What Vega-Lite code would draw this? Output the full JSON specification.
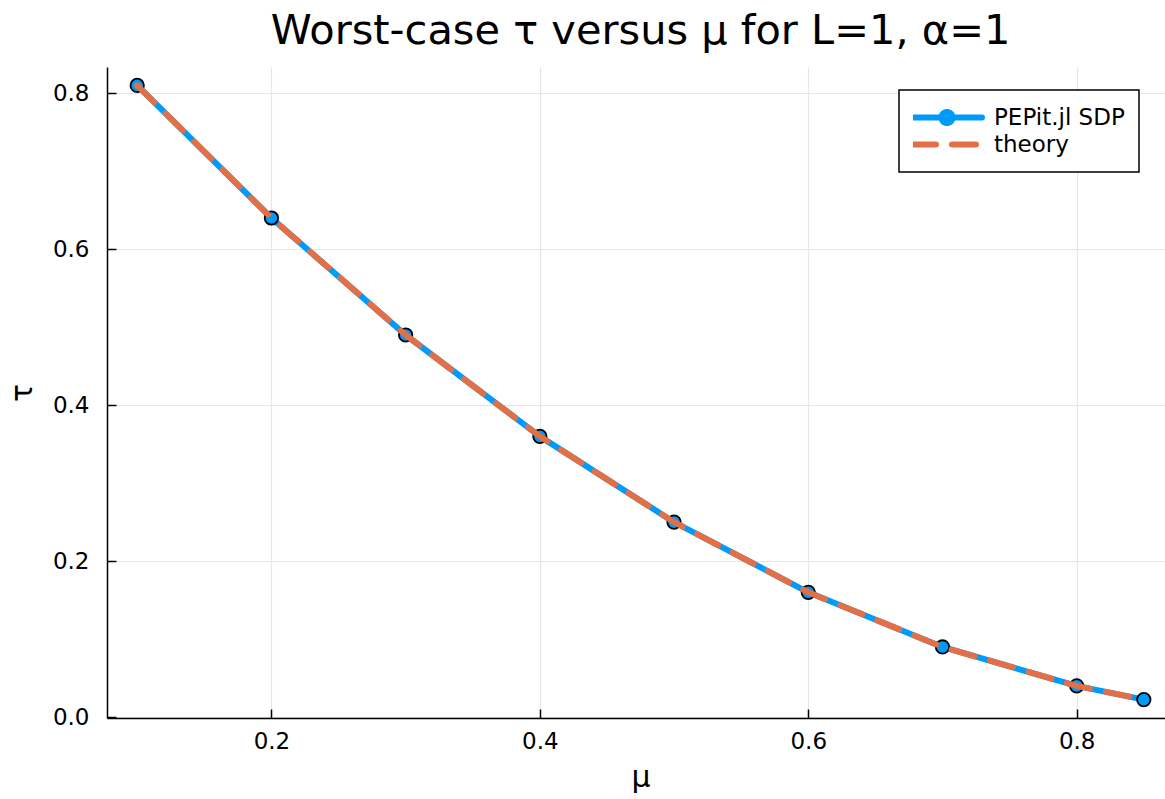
{
  "$schema": "https://vega.github.io/schema/vega-lite/v6.json",
  "width": 1067,
  "height": 651,
  "autosize": {"type": "none"},
  "padding": {"left": 107, "top": 67, "right": 0, "bottom": 81},
  "background": "white",
  "config": {"view": {"stroke": null}, "font": "DejaVu Sans"},
  "title": {"text": "Worst-case τ versus μ for L=1, α=1", "font": "DejaVu Sans", "fontSize": 41.5, "fontWeight": "normal", "color": "black", "anchor": "middle", "frame": "group", "offset": 15},
  "data": {"values": [
    {"mu": 0.1, "tau": 0.81, "series": "PEPit.jl SDP"},
    {"mu": 0.2, "tau": 0.64, "series": "PEPit.jl SDP"},
    {"mu": 0.3, "tau": 0.49, "series": "PEPit.jl SDP"},
    {"mu": 0.4, "tau": 0.36, "series": "PEPit.jl SDP"},
    {"mu": 0.5, "tau": 0.25, "series": "PEPit.jl SDP"},
    {"mu": 0.6, "tau": 0.16, "series": "PEPit.jl SDP"},
    {"mu": 0.7, "tau": 0.09, "series": "PEPit.jl SDP"},
    {"mu": 0.8, "tau": 0.04, "series": "PEPit.jl SDP"},
    {"mu": 0.85, "tau": 0.0225, "series": "PEPit.jl SDP"},
    {"mu": 0.1, "tau": 0.81, "series": "theory"},
    {"mu": 0.2, "tau": 0.64, "series": "theory"},
    {"mu": 0.3, "tau": 0.49, "series": "theory"},
    {"mu": 0.4, "tau": 0.36, "series": "theory"},
    {"mu": 0.5, "tau": 0.25, "series": "theory"},
    {"mu": 0.6, "tau": 0.16, "series": "theory"},
    {"mu": 0.7, "tau": 0.09, "series": "theory"},
    {"mu": 0.8, "tau": 0.04, "series": "theory"},
    {"mu": 0.85, "tau": 0.0225, "series": "theory"}
  ]},
  "encoding": {
    "x": {"field": "mu", "type": "quantitative",
      "scale": {"domain": [0.0775, 0.8725], "nice": false, "zero": false},
      "axis": {"title": "μ", "values": [0.2, 0.4, 0.6, 0.8], "format": ".1f",
        "labelFont": "DejaVu Sans", "labelFontSize": 23, "labelColor": "black",
        "titleFont": "DejaVu Sans", "titleFontSize": 30, "titleFontWeight": "normal", "titleColor": "black", "titlePadding": 9,
        "domainColor": "black", "domainWidth": 1.5, "tickColor": "black", "tickWidth": 1.5, "tickSize": -9, "labelPadding": 21,
        "grid": true, "gridColor": "#e6e6e6", "gridWidth": 1.2}},
    "y": {"field": "tau", "type": "quantitative",
      "scale": {"domain": [-0.001125, 0.833625], "nice": false, "zero": false},
      "axis": {"title": "τ", "values": [0, 0.2, 0.4, 0.6, 0.8], "format": ".1f",
        "labelFont": "DejaVu Sans", "labelFontSize": 23, "labelColor": "black",
        "titleFont": "DejaVu Sans", "titleFontSize": 30, "titleFontWeight": "normal", "titleColor": "black", "titlePadding": 15,
        "domainColor": "black", "domainWidth": 1.5, "tickColor": "black", "tickWidth": 1.5, "tickSize": -9, "labelPadding": 27,
        "grid": true, "gridColor": "#e6e6e6", "gridWidth": 1.2}}
  },
  "layer": [
    {
      "transform": [{"filter": "datum.series === 'PEPit.jl SDP'"}],
      "mark": {"type": "line", "strokeWidth": 6, "strokeCap": "round", "strokeJoin": "round"},
      "encoding": {
        "color": {"field": "series", "type": "nominal",
          "scale": {"domain": ["PEPit.jl SDP", "theory"], "range": ["#009AFA", "#E36F47"]},
          "legend": {"title": null, "orient": "none", "legendX": 792, "legendY": 23,
            "fillColor": "white", "strokeColor": "black", "cornerRadius": 0, "padding": 14,
            "labelFont": "DejaVu Sans", "labelFontSize": 23, "labelColor": "black", "labelOffset": 34,
            "symbolSize": 400, "symbolStrokeWidth": 6, "symbolOffset": 21, "rowPadding": 0, "clipHeight": 27,
            "encode": {
              "legend": {"update": {"strokeWidth": {"value": 1.5}}},
              "symbols": {"update": {
              "shape": {"signal": "datum.label === 'theory' ? 'M-3.5,0H3.5' : 'M-3.5,0H-0.6M0.6,0H3.5M0.55,0A0.55,0.55 0 1 1 -0.55,0A0.55,0.55 0 1 1 0.55,0Z'"},
              "strokeDash": {"signal": "datum.label === 'theory' ? [24,16] : [1,0]"},
              "strokeCap": {"value": "round"},
              "strokeWidth": {"value": 6},
              "fill": {"signal": "datum.label === 'theory' ? 'transparent' : '#009AFA'"},
              "fillOpacity": {"value": 1},
              "stroke": {"signal": "datum.label === 'theory' ? '#E36F47' : '#009AFA'"}
            }}}}
        }
      }
    },
    {
      "transform": [{"filter": "datum.series === 'PEPit.jl SDP'"}],
      "mark": {"type": "point", "shape": "circle", "filled": true, "size": 180, "fill": "#009AFA", "stroke": "black", "strokeWidth": 1.8, "opacity": 1}
    },
    {
      "transform": [{"filter": "datum.series === 'theory'"}],
      "mark": {"type": "line", "strokeWidth": 6, "strokeCap": "round", "strokeJoin": "round", "strokeDash": [24, 16]},
      "encoding": {
        "color": {"field": "series", "type": "nominal"}
      }
    }
  ]
}
